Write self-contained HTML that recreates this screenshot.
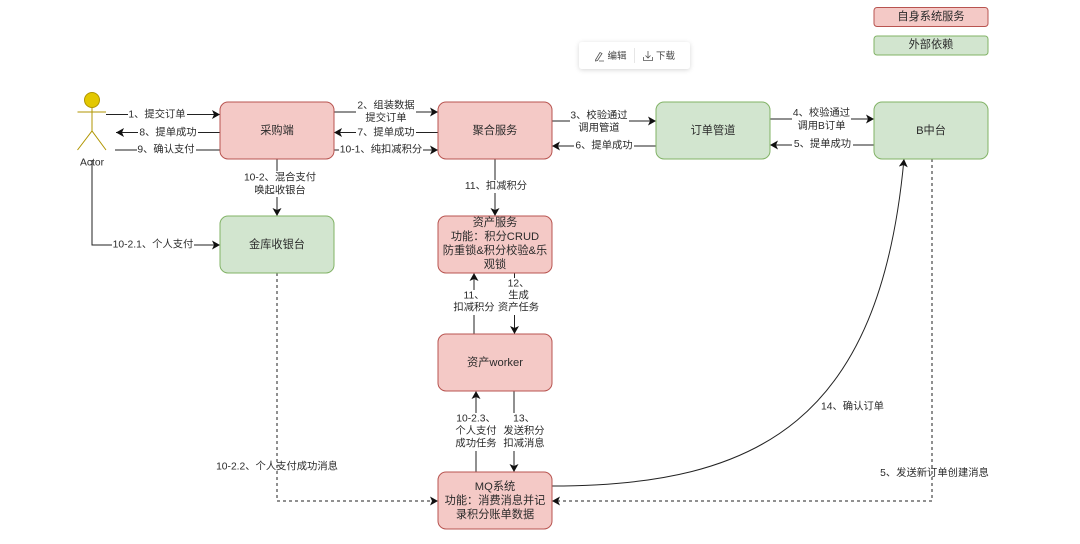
<!DOCTYPE html>
<html lang="zh">
<head>
<meta charset="utf-8">
<style>
html,body{margin:0;padding:0;background:#fff;width:1080px;height:544px;overflow:hidden}
svg{display:block;filter:blur(.35px)}
text{font-family:"Liberation Sans","Noto Sans CJK SC",sans-serif;font-size:10.3px;fill:#2b2b2b;text-anchor:middle;dominant-baseline:central;transform:translateY(1px)}
.n{font-size:11.2px}
.r{fill:#f4c9c6;stroke:#b85450;stroke-width:1}
.g{fill:#d2e5cf;stroke:#82b366;stroke-width:1}
.l{fill:none;stroke:#222;stroke-width:1;marker-end:url(#a)}
.d{stroke-dasharray:3 3}
.bg{fill:#fff;stroke:none}
</style>
</head>
<body>
<svg width="1080" height="544" viewBox="0 0 1080 544" xmlns="http://www.w3.org/2000/svg">
<defs>
<marker id="a" markerUnits="userSpaceOnUse" markerWidth="10" markerHeight="10" refX="8" refY="4.5" orient="auto">
<path d="M0 0L8 4.5L0 9L2 4.5Z" fill="#111"/>
</marker>
<filter id="s" x="-20%" y="-40%" width="140%" height="180%"><feDropShadow dx="0" dy="1" stdDeviation="2.5" flood-color="#000" flood-opacity=".16"/></filter>
</defs>

<!-- toolbar -->
<rect x="579" y="42" width="111" height="27" rx="3" fill="#fff" filter="url(#s)"/>
<path d="M595.5 60L600 52.5L602 53.5L597.5 60.5L595.5 61ZM599 61H604" fill="none" stroke="#555" stroke-width=".8"/>
<text x="617" y="55.5" style="font-size:9.5px;fill:#444">编辑</text>
<line x1="634.5" y1="48" x2="634.5" y2="63" stroke="#e6e6e6"/>
<path d="M648 51V58M645.5 55.5L648 58L650.5 55.5M643.5 57V60.5H652.5V57" fill="none" stroke="#555" stroke-width=".8"/>
<text x="665.5" y="55.5" style="font-size:9.5px;fill:#444">下载</text>

<!-- legend -->
<rect class="r" x="874" y="7.5" width="114" height="19" rx="3"/>
<text class="n" x="931" y="16">自身系统服务</text>
<rect class="g" x="874" y="36" width="114" height="19" rx="3"/>
<text class="n" x="931" y="44">外部依赖</text>

<!-- connectors -->
<path class="l" d="M106 114.5H220"/>
<path class="l" d="M220 132.5H116"/>
<path class="l" d="M115 150H229"/>
<path class="l" d="M334 112H438"/>
<path class="l" d="M438 132.5H334"/>
<path class="l" d="M334 150H438"/>
<path class="l" d="M277 159V216"/>
<path class="l" d="M92 160V245H220"/>
<path class="l" d="M552 121H656"/>
<path class="l" d="M656 146H552"/>
<path class="l" d="M770 119H874"/>
<path class="l" d="M874 145H770"/>
<path class="l" d="M495 159V216"/>
<path class="l" d="M474 334V273"/>
<path class="l" d="M514.5 273V334"/>
<path class="l" d="M476 472V391"/>
<path class="l" d="M514 391V472"/>
<path class="l" d="M552 486C760 486 880 420 904 159"/>
<path class="l d" d="M932 159V501H552"/>
<path class="l d" d="M277 273V501H438"/>

<!-- nodes -->
<rect class="r" x="220" y="102" width="114" height="57" rx="8"/>
<text class="n" x="277" y="130">采购端</text>
<rect class="r" x="438" y="102" width="114" height="57" rx="8"/>
<text class="n" x="495" y="130">聚合服务</text>
<rect class="g" x="656" y="102" width="114" height="57" rx="8"/>
<text class="n" x="713" y="130">订单管道</text>
<rect class="g" x="874" y="102" width="114" height="57" rx="8"/>
<text class="n" x="931" y="130">B中台</text>
<rect class="g" x="220" y="216" width="114" height="57" rx="8"/>
<text class="n" x="277" y="244">金库收银台</text>
<rect class="r" x="438" y="216" width="114" height="57" rx="8"/>
<text class="n" x="495" y="222">资产服务</text>
<text class="n" x="495" y="236">功能：积分CRUD</text>
<text class="n" x="495" y="250">防重锁&amp;积分校验&amp;乐</text>
<text class="n" x="495" y="264">观锁</text>
<rect class="r" x="438" y="334" width="114" height="57" rx="8"/>
<text class="n" x="495" y="362">资产worker</text>
<rect class="r" x="438" y="472" width="114" height="57" rx="8"/>
<text class="n" x="495" y="486">MQ系统</text>
<text class="n" x="495" y="500">功能：消费消息并记</text>
<text class="n" x="495" y="514">录积分账单数据</text>

<!-- actor -->
<circle cx="92" cy="100" r="7.5" fill="#e3c800" stroke="#b09500"/>
<path d="M92 107.5V131M77.5 112H106M77.5 150L92 131L106 150" fill="none" stroke="#b09500"/>
<text x="92" y="162">Actor</text>

<!-- labels -->
<rect class="bg" x="128" y="108" width="59" height="13"/><text x="157" y="114">1、提交订单</text>
<rect class="bg" x="138" y="126" width="60" height="13"/><text x="168" y="132">8、提单成功</text>
<rect class="bg" x="137" y="143" width="59" height="13"/><text x="166" y="149">9、确认支付</text>
<rect class="bg" x="356" y="99" width="60" height="26"/><text x="386" y="105">2、组装数据</text><text x="386" y="117.5">提交订单</text>
<rect class="bg" x="356" y="126" width="60" height="13"/><text x="386" y="132">7、提单成功</text>
<rect class="bg" x="339" y="143" width="84" height="13"/><text x="381" y="149">10-1、纯扣减积分</text>
<rect class="bg" x="243" y="171" width="74" height="26"/><text x="280" y="177">10-2、混合支付</text><text x="280" y="190">唤起收银台</text>
<rect class="bg" x="112" y="238" width="82" height="13"/><text x="153" y="244">10-2.1、个人支付</text>
<rect class="bg" x="570" y="109" width="59" height="26"/><text x="599" y="115">3、校验通过</text><text x="599" y="127.5">调用管道</text>
<rect class="bg" x="574" y="140" width="60" height="13"/><text x="604" y="145">6、提单成功</text>
<rect class="bg" x="792" y="107" width="59" height="26"/><text x="821.5" y="112.5">4、校验通过</text><text x="821.5" y="125.5">调用B订单</text>
<rect class="bg" x="792" y="138" width="61" height="13"/><text x="822.5" y="143.5">5、提单成功</text>
<rect class="bg" x="464" y="180" width="63" height="13"/><text x="496" y="185.5">11、扣减积分</text>
<rect class="bg" x="453" y="290" width="43" height="25"/><text x="474" y="295">11、</text><text x="474" y="307">扣减积分</text>
<rect class="bg" x="497" y="278" width="43" height="37"/><text x="518.5" y="283">12、</text><text x="518.5" y="295">生成</text><text x="518.5" y="307">资产任务</text>
<rect class="bg" x="455" y="413" width="42" height="38"/><text x="476" y="418">10-2.3、</text><text x="476" y="430.5">个人支付</text><text x="476" y="443">成功任务</text>
<rect class="bg" x="503" y="413" width="42" height="38"/><text x="524" y="418">13、</text><text x="524" y="430.5">发送积分</text><text x="524" y="443">扣减消息</text>
<text x="852.5" y="406">14、确认订单</text>
<text x="934.5" y="472.5">5、发送新订单创建消息</text>
<text x="277" y="466">10-2.2、个人支付成功消息</text>
</svg>
</body>
</html>
